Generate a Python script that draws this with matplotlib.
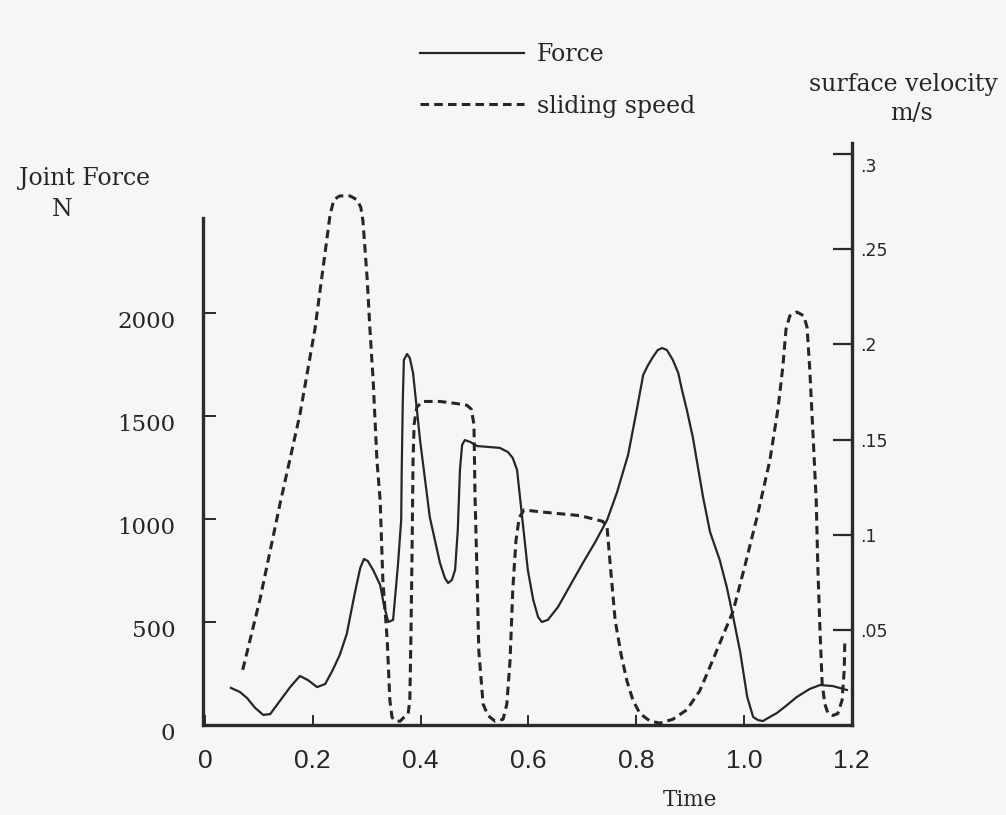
import matplotlib
matplotlib.use("Agg")
import matplotlib.pyplot as plt
from matplotlib import font_manager
from matplotlib.transforms import ScaledTranslation

# ---------------- data ----------------
force_t = [0.048, 0.065, 0.078, 0.093, 0.108, 0.121, 0.139, 0.158, 0.176, 0.191,
           0.208, 0.223, 0.237, 0.250, 0.263, 0.278, 0.288, 0.295, 0.302, 0.312,
           0.325, 0.332, 0.340, 0.349, 0.358, 0.364, 0.365, 0.367, 0.369, 0.375,
           0.380, 0.386, 0.399, 0.417, 0.436, 0.445, 0.451, 0.458, 0.464, 0.469,
           0.473, 0.477, 0.482, 0.492, 0.505, 0.529, 0.547, 0.562, 0.571, 0.579,
           0.584, 0.592, 0.599, 0.609, 0.618, 0.625, 0.636, 0.655, 0.677, 0.701,
           0.724, 0.746, 0.764, 0.785, 0.801, 0.813, 0.822, 0.831, 0.840, 0.848,
           0.857, 0.868, 0.878, 0.885, 0.894, 0.905, 0.924, 0.937, 0.955, 0.968,
           0.980, 0.993, 1.006, 1.017, 1.026, 1.035, 1.048, 1.061, 1.080, 1.098,
           1.122, 1.141, 1.165, 1.191]
force_N = [180, 160, 131, 83, 49, 53, 117, 184, 238, 218,
           184, 199, 267, 340, 442, 641, 762, 806, 796, 752,
           680, 582, 500, 510, 777, 995, 1238, 1578, 1772, 1801,
           1781, 1709, 1383, 1010, 786, 714, 689, 704, 752, 947,
           1238, 1359, 1383, 1374, 1354, 1349, 1345, 1325, 1296, 1238,
           1116, 922, 752, 607, 524, 500, 510, 573, 675, 786,
           888, 995, 1126, 1311, 1529, 1699, 1747, 1786, 1820, 1830,
           1820, 1772, 1709, 1626, 1529, 1398, 1107, 937, 801, 670,
           524, 354, 136, 39, 24, 19, 39, 58, 97, 136,
           175, 194, 189, 170]

speed_t = [0.070, 0.102, 0.139, 0.176, 0.204, 0.226, 0.232, 0.239, 0.250, 0.269,
           0.282, 0.289, 0.293, 0.301, 0.306, 0.312, 0.319, 0.325, 0.330, 0.338,
           0.343, 0.347, 0.354, 0.362, 0.369, 0.377, 0.380, 0.382, 0.384, 0.386,
           0.388, 0.393, 0.404, 0.436, 0.464, 0.486, 0.494, 0.499, 0.501, 0.505,
           0.508, 0.516, 0.525, 0.538, 0.553, 0.560, 0.566, 0.571, 0.577, 0.583,
           0.592, 0.622, 0.659, 0.696, 0.738, 0.746, 0.751, 0.761, 0.772, 0.783,
           0.794, 0.807, 0.826, 0.844, 0.868, 0.894, 0.918, 0.942, 0.980, 1.002,
           1.024, 1.048, 1.063, 1.072, 1.078, 1.085, 1.098, 1.111, 1.117, 1.122,
           1.128, 1.134, 1.137, 1.141, 1.145, 1.150, 1.156, 1.165, 1.174, 1.182,
           1.186, 1.187]
speed_ms = [0.029, 0.066, 0.116, 0.163, 0.208, 0.255, 0.268, 0.276, 0.278, 0.278,
            0.276, 0.272, 0.265, 0.234, 0.208, 0.181, 0.139, 0.118, 0.076, 0.045,
            0.013, 0.004, 0.002, 0.002, 0.004, 0.006, 0.013, 0.045, 0.087, 0.139,
            0.158, 0.167, 0.170, 0.170, 0.169, 0.168, 0.166, 0.158, 0.120, 0.076,
            0.039, 0.011, 0.005, 0.002, 0.003, 0.011, 0.034, 0.071, 0.097, 0.109,
            0.113, 0.112, 0.111, 0.110, 0.107, 0.104, 0.087, 0.055, 0.037, 0.023,
            0.013, 0.006, 0.002, 0.001, 0.003, 0.008, 0.018, 0.034, 0.060, 0.084,
            0.109, 0.139, 0.166, 0.188, 0.208, 0.215, 0.217, 0.215, 0.209, 0.187,
            0.153, 0.118, 0.083, 0.050, 0.022, 0.011, 0.006, 0.005, 0.006, 0.013,
            0.029, 0.043]

x_ticks = [0, 0.2, 0.4, 0.6, 0.8, 1.0, 1.2]
x_tick_labels = ["0", "0.2", "0.4", "0.6", "0.8", "1.0", "1.2"]
force_ticks = [0, 500, 1000, 1500, 2000]
force_tick_labels = ["0", "500", "1000", "1500", "2000"]
speed_ticks = [0.05, 0.1, 0.15, 0.2, 0.25, 0.3]
speed_tick_labels = [".05", ".1", ".15", ".2", ".25", ".3"]

# ---------------- style ----------------
names = {f.name for f in font_manager.fontManager.ttflist}
narrow = "Liberation Sans Narrow" if "Liberation Sans Narrow" in names else "Liberation Sans"
SERIF = "DejaVu Serif"
INK = "#262626"

W, H = 1006, 815
fig = plt.figure(figsize=(W / 100, H / 100), dpi=100)
fig.patch.set_facecolor("#f6f6f6")

ax = fig.add_axes([203 / W, 90 / H, (852 - 203) / W, (725 - 143) / H])
ax.set_facecolor("none")
ax.set_xlim(-0.0037, 1.2004)
ax.set_ylim(0, 2825)

ax2 = ax.twinx()
ax2.set_ylim(0, 0.3058)

ln1, = ax.plot(force_t, force_N, color=INK, lw=1.6, solid_joinstyle="round")
ln2, = ax2.plot(speed_t, speed_ms, color=INK, lw=2.2, linestyle=(0, (2.8, 1.7)))

for a in (ax, ax2):
    a.spines["top"].set_visible(False)
ax.spines["right"].set_visible(False)
ax2.spines["left"].set_visible(False)
ax2.spines["bottom"].set_visible(False)
ax.spines["left"].set_bounds(0, 2461)
for sp in (ax.spines["left"], ax.spines["bottom"], ax2.spines["right"]):
    sp.set_linewidth(2.4)
    sp.set_color("#2a2a2a")

ax.set_xticks(x_ticks)
ax.set_xticklabels(x_tick_labels, family=narrow, fontsize=19, color=INK)
ax.tick_params(axis="x", direction="in", length=7, width=1.4, pad=17, color="#2a2a2a")

ax.set_yticks(force_ticks)
ax.set_yticklabels(force_tick_labels, family=SERIF, fontsize=16.5, color=INK)
ax.tick_params(axis="y", direction="in", length=9, width=1.4, pad=20, color="#2a2a2a")
down = ScaledTranslation(0, -0.07, fig.dpi_scale_trans)
for lab in ax.get_yticklabels():
    lab.set_transform(lab.get_transform() + down)

ax2.set_yticks(speed_ticks)
ax2.set_yticklabels(speed_tick_labels, family="DejaVu Sans", fontsize=12.5, color=INK)
ax2.tick_params(axis="y", direction="in", length=14, width=1.6, pad=6, color="#2a2a2a")
top_lab = ax2.get_yticklabels()[-1]
top_lab.set_transform(top_lab.get_transform() + ScaledTranslation(0, -0.11, fig.dpi_scale_trans))

# axis titles
fig.text(85 / W, 1 - 178 / H, "Joint Force", ha="center", va="center", family=SERIF, fontsize=17, color=INK)
fig.text(62 / W, 1 - 210 / H, "N", ha="center", va="center", family=SERIF, fontsize=17, color=INK)
fig.text(903 / W, 1 - 85 / H, "surface velocity", ha="center", va="center", family=SERIF, fontsize=17, color=INK)
fig.text(911 / W, 1 - 113 / H, "m/s", ha="center", va="center", family=SERIF, fontsize=17, color=INK)
fig.text(690 / W, 1 - 800 / H, "Time", ha="center", va="center", family=SERIF, fontsize=15.5, color=INK)

leg = fig.legend([ln1, ln2], ["Force", "sliding speed"], loc="upper left",
                 bbox_to_anchor=(399 / W, 1 - 22 / H), frameon=False,
                 prop={"family": SERIF, "size": 17}, handlelength=4.4,
                 handletextpad=0.55, labelspacing=1.2)
for t in leg.get_texts():
    t.set_color(INK)

fig.savefig("out.png", dpi=100, facecolor=fig.get_facecolor())
